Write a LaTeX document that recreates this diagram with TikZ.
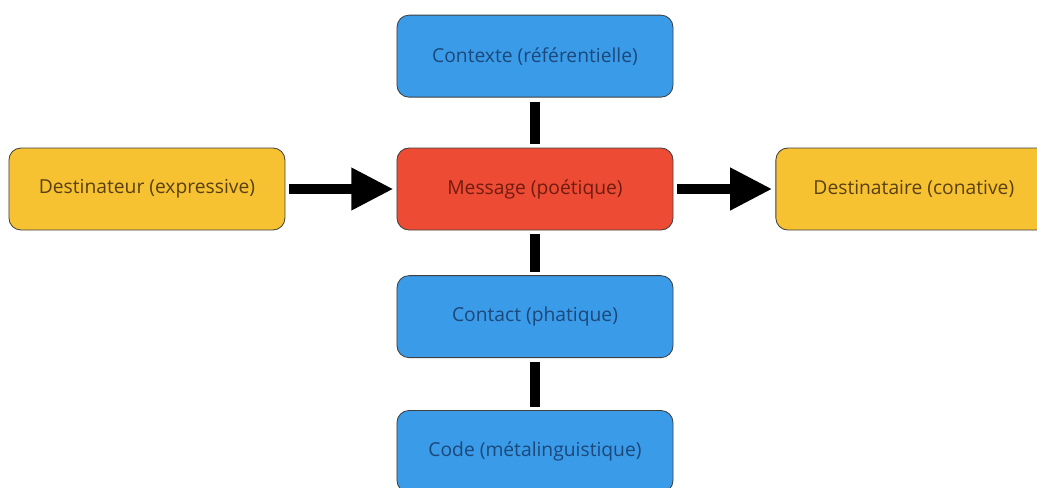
\documentclass[tikz,border=0pt]{standalone}
\usepackage{fontspec}
\setmainfont{Open Sans}
\usepackage{tikz}
\usetikzlibrary{positioning, arrows.meta}
\definecolor{boxblue}{RGB}{58,155,233}
\definecolor{boxred}{RGB}{238,75,52}
\definecolor{boxyellow}{RGB}{247,194,50}
\definecolor{txtblue}{RGB}{28,72,122}
\definecolor{txtred}{RGB}{112,28,16}
\definecolor{txtyellow}{RGB}{88,64,18}
\newcommand\boxwidth{6.9}
\tikzset{function/.style={rectangle, rounded corners=0.3cm, draw=black!75, line width=0.6pt, minimum width=\boxwidth cm, minimum height=2.05cm, font=\fontsize{13.7}{16}\selectfont}}
\tikzset{bluebox/.style={function, fill=boxblue, text=txtblue}}
\tikzset{redbox/.style={function, fill=boxred, text=txtred}}
\tikzset{yellowbox/.style={function, fill=boxyellow, text=txtyellow}}
\tikzset{link/.style={line width=0.25cm, black, shorten <=0.1cm, shorten >=0.08cm}}
\tikzset{arrow/.style={link, -{Triangle[length=1.05cm, width=1cm]}}}

\begin{document}
\begin{tikzpicture}
\useasboundingbox (-13.375,4.725) rectangle (12.55,-7.45);
\node[redbox] (message) at (0,0) {Message (poétique)};
\node[bluebox, above=1.25cm of message] (contexte) {Contexte (référentielle)};
\node[bluebox, below=1.12cm of message] (contact) {Contact (phatique)};
\node[bluebox, below=1.3cm of contact] (code) {Code (métalinguistique)};
\node[yellowbox, left=2.78cm of message] (destinateur) {Destinateur (expressive)};
\node[yellowbox, right=2.55cm of message] (destinataire) {Destinataire (conative)};
% connectors
\draw[link] (contexte) -- (message);
\draw[link] (message) -- (contact);
\draw[link] (contact) -- (code);
\draw[arrow] (destinateur) -- (message);
\draw[arrow] (message) -- (destinataire);
\end{tikzpicture}
\end{document}
